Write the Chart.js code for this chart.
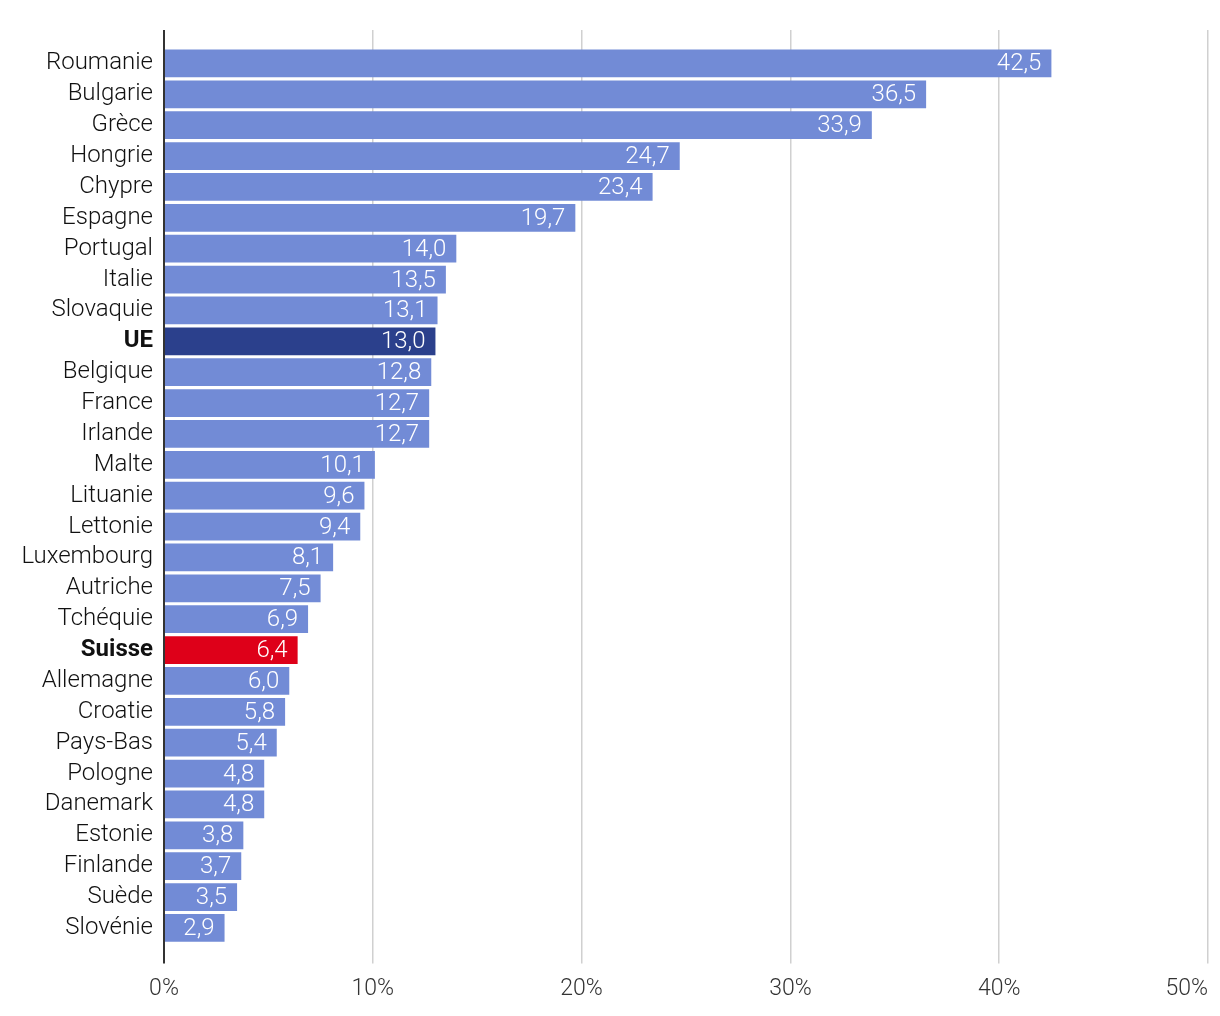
<!DOCTYPE html>
<html>
<head>
<meta charset="utf-8">
<script src="https://cdn.jsdelivr.net/npm/chart.js@4/dist/chart.umd.min.js"></script>
<style>
  html, body { margin: 0; padding: 0; background: #fff; }
  #wrap { width: 1220px; height: 1016px; }
</style>
</head>
<body>
<div id="wrap"><canvas id="myChart"></canvas></div>
<script>
var categories = ['Roumanie', 'Bulgarie', 'Grèce', 'Hongrie', 'Chypre', 'Espagne', 'Portugal', 'Italie',
  'Slovaquie', 'UE', 'Belgique', 'France', 'Irlande', 'Malte', 'Lituanie', 'Lettonie', 'Luxembourg',
  'Autriche', 'Tchéquie', 'Suisse', 'Allemagne', 'Croatie', 'Pays-Bas', 'Pologne', 'Danemark',
  'Estonie', 'Finlande', 'Suède', 'Slovénie'];
var values = [42.5, 36.5, 33.9, 24.7, 23.4, 19.7, 14.0, 13.5, 13.1, 13.0, 12.8, 12.7, 12.7, 10.1,
  9.6, 9.4, 8.1, 7.5, 6.9, 6.4, 6.0, 5.8, 5.4, 4.8, 4.8, 3.8, 3.7, 3.5, 2.9];
var highlighted = ['UE', 'Suisse'];
var axisMax = 50;
var axisStep = 10;

var FONT = 'Roboto';

function barColor(name) {
  if (name == 'UE') return '#2b408c';
  if (name == 'Suisse') return '#de0019';
  return '#728bd6';
}

function fmt(v) {
  return v.toFixed(1).replace('.', ',');
}

// white value labels inside the bars, right aligned
var valueLabels = {
  id: 'valueLabels',
  afterDatasetsDraw: function (chart) {
    var ctx = chart.ctx;
    var meta = chart.getDatasetMeta(0);
    ctx.save();
    ctx.font = '300 24px ' + FONT;
    ctx.fillStyle = '#ffffff';
    ctx.textAlign = 'right';
    ctx.textBaseline = 'middle';
    for (var i = 0; i < meta.data.length; i++) {
      var bar = meta.data[i];
      ctx.fillText(fmt(values[i]), bar.x - 10, bar.y + 1);
    }
    ctx.restore();
  }
};

// last x tick label is drawn right aligned so it stays inside the canvas
var lastTick = {
  id: 'lastTick',
  afterDraw: function (chart) {
    var s = chart.scales.x;
    var ctx = chart.ctx;
    ctx.save();
    ctx.font = '300 23px ' + FONT;
    ctx.fillStyle = '#333333';
    ctx.textAlign = 'right';
    ctx.textBaseline = 'middle';
    var y = s.top + s.options.grid.tickLength + s.options.ticks.padding + 14;
    ctx.fillText(axisMax + '%', s.getPixelForValue(axisMax), y);
    ctx.restore();
  }
};

function gridColor(c) {
  return c.tick && c.tick.value === 0 ? '#333333' : '#d0d0d0';
}
function gridWidth(c) {
  return c.tick && c.tick.value === 0 ? 2 : 1.5;
}

var config = {
  type: 'bar',
  data: {
    labels: categories,
    datasets: [{
      data: values,
      backgroundColor: categories.map(barColor),
      borderWidth: 0,
      categoryPercentage: 1,
      barPercentage: 0.9
    }]
  },
  options: {
    indexAxis: 'y',
    responsive: true,
    maintainAspectRatio: false,
    animation: false,
    layout: { padding: { top: 30, right: 11, bottom: 1, left: 0 } },
    plugins: {
      legend: { display: false },
      tooltip: { enabled: false }
    },
    scales: {
      x: {
        position: 'bottom',
        min: 0,
        max: axisMax,
        border: { display: false },
        grid: { color: gridColor, lineWidth: gridWidth, tickLength: 20 },
        ticks: {
          stepSize: axisStep,
          padding: 12,
          color: '#333333',
          font: { family: FONT, size: 23, weight: '300' },
          maxRotation: 0,
          callback: function (v) { return v == axisMax ? '' : v + '%'; }
        }
      },
      x2: {
        position: 'top',
        min: 0,
        max: axisMax,
        border: { display: false },
        grid: { color: gridColor, lineWidth: gridWidth, tickLength: 18, drawOnChartArea: false },
        ticks: { stepSize: axisStep, display: false }
      },
      y: {
        border: { display: false },
        grid: { display: false, drawTicks: false },
        afterFit: function (s) { s.width = 164; },
        ticks: {
          autoSkip: false,
          padding: 11,
          color: '#111111',
          font: function (c) {
            var bold = highlighted.indexOf(categories[c.index]) != -1;
            return { family: FONT, size: 24, weight: bold ? 'bold' : '300' };
          }
        }
      }
    }
  },
  plugins: [valueLabels, lastTick]
};

var ctx = document.getElementById('myChart').getContext('2d');
window.myBar = new Chart(ctx, config);
</script>
</body>
</html>
